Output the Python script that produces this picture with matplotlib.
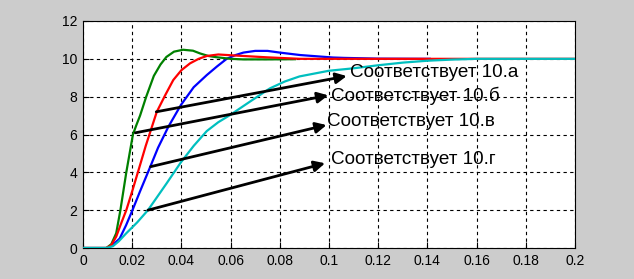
import matplotlib
matplotlib.use("Agg")
import matplotlib.pyplot as plt
import numpy as np

# ---- data ----
green_t = [0, 0.0095, 0.0115, 0.0135, 0.0152, 0.0176, 0.0203, 0.0217, 0.0232, 0.0257,
           0.0288, 0.0315, 0.0339, 0.037, 0.0407, 0.0447, 0.0477, 0.051, 0.054, 0.06,
           0.065, 0.075, 0.0862]
green_v = [0, 0, 0.2, 0.78, 2.0, 4.0, 6.0, 6.5, 7.0, 8.0,
           9.1, 9.7, 10.1, 10.38, 10.48, 10.43, 10.28, 10.15, 10.09, 10.0,
           9.97, 9.97, 9.98]

red_t = [0, 0.0095, 0.0115, 0.0135, 0.0155, 0.0176, 0.02, 0.0232, 0.0255, 0.027,
         0.03, 0.0335, 0.0367, 0.04, 0.0435, 0.047, 0.0503, 0.055,
         0.0613, 0.0748, 0.0883, 0.1, 0.2]
red_v = [0, 0, 0.15, 0.6, 1.3, 2.0, 3.0, 4.39, 5.4, 6.0,
         7.2, 8.1, 8.88, 9.4, 9.76, 10.0, 10.15, 10.23,
         10.18, 10.08, 10.0, 10.0, 10.0]

blue_t = [0, 0.0100, 0.012, 0.0149, 0.0175, 0.0201, 0.0232, 0.0272, 0.0305, 0.0347,
          0.0398, 0.045, 0.0503, 0.0545, 0.0584, 0.062, 0.0652, 0.07, 0.075,
          0.08, 0.0883, 0.1016, 0.106, 0.12, 0.141]
blue_v = [0, 0, 0.15, 0.5, 1.2, 2.0, 3.0, 4.25, 5.3, 6.41,
          7.56, 8.5, 9.14, 9.6, 10.0, 10.2, 10.33, 10.42, 10.42,
          10.33, 10.2, 10.07, 10.05, 10.01, 10.0]

cyan_t = [0, 0.0095, 0.0122, 0.0145, 0.0176, 0.022, 0.0264, 0.0293, 0.0339, 0.0398,
          0.045, 0.0503, 0.055, 0.0598, 0.068, 0.076, 0.082, 0.088, 0.1,
          0.11, 0.12, 0.13, 0.14, 0.15, 0.16, 0.2]
cyan_v = [0, 0, 0.1, 0.35, 0.78, 1.35, 2.0, 2.54, 3.4, 4.53,
          5.4, 6.18, 6.65, 7.03, 7.75, 8.44, 8.8, 9.07, 9.37,
          9.5, 9.66, 9.8, 9.9, 9.96, 10.0, 10.0]

labels = ["Соответствует 10.а", "Соответствует 10.б", "Соответствует 10.в", "Соответствует 10.г"]
label_t = [0.1084, 0.1007, 0.0993, 0.1007]
label_v = [9.27, 8.03, 6.68, 4.69]
arrow_start_t = [0.0298, 0.0213, 0.0275, 0.0264]
arrow_start_v = [7.2, 6.09, 4.3, 2.0]
arrow_end_t = [0.1072, 0.0997, 0.099, 0.0984]
arrow_end_v = [9.09, 8.07, 6.5, 4.48]

xticks = [0, 0.02, 0.04, 0.06, 0.08, 0.1, 0.12, 0.14, 0.16, 0.18, 0.2]
xtick_labels = ["0", "0.02", "0.04", "0.06", "0.08", "0.1", "0.12", "0.14", "0.16", "0.18", "0.2"]
yticks = [0, 2, 4, 6, 8, 10, 12]
ytick_labels = ["0", "2", "4", "6", "8", "10", "12"]

# ---- figure ----
plt.rcParams['font.family'] = ['Liberation Sans', 'DejaVu Sans']
fig = plt.figure(figsize=(6.34, 2.79), dpi=100, facecolor='#cccccc')
ax = fig.add_axes([83/634, 31/279, 492/634, 227/279])
ax.set_facecolor('white')

lw = 1.6
ax.plot(blue_t, blue_v, color=(0, 0, 1), lw=lw, zorder=3)
ax.plot(green_t, green_v, color=(0, 0.5, 0), lw=lw, zorder=3)
ax.plot(red_t, red_v, color=(1, 0, 0), lw=lw, zorder=3)
ax.plot(cyan_t, cyan_v, color=(0, 0.75, 0.75), lw=lw, zorder=3)

for e_t, e_v, s_t, s_v in zip(arrow_end_t, arrow_end_v, arrow_start_t, arrow_start_v):
    ax.annotate('', xy=(e_t, e_v), xytext=(s_t, s_v),
                arrowprops=dict(arrowstyle='-|>', color='black', lw=2.0,
                                mutation_scale=16, shrinkA=0, shrinkB=0),
                zorder=4)
for s, t, v in zip(labels, label_t, label_v):
    ax.text(t, v, s, ha='left', va='center', fontsize=13.6, color='black', zorder=5)

ax.set_xlim(0, 0.2)
ax.set_ylim(0, 12)
ax.set_xticks(xticks)
ax.set_xticklabels(xtick_labels)
ax.set_yticks(yticks)
ax.set_yticklabels(ytick_labels)
ax.tick_params(direction='in', length=4, width=0.8, labelsize=10, pad=4, colors='black')
ax.grid(True, color='black', linestyle=(0, (3, 3)), linewidth=0.8)
ax.set_axisbelow(True)
for sp in ax.spines.values():
    sp.set_linewidth(0.8)
    sp.set_color('black')

fig.savefig('out.png', dpi=100, facecolor=fig.get_facecolor())
